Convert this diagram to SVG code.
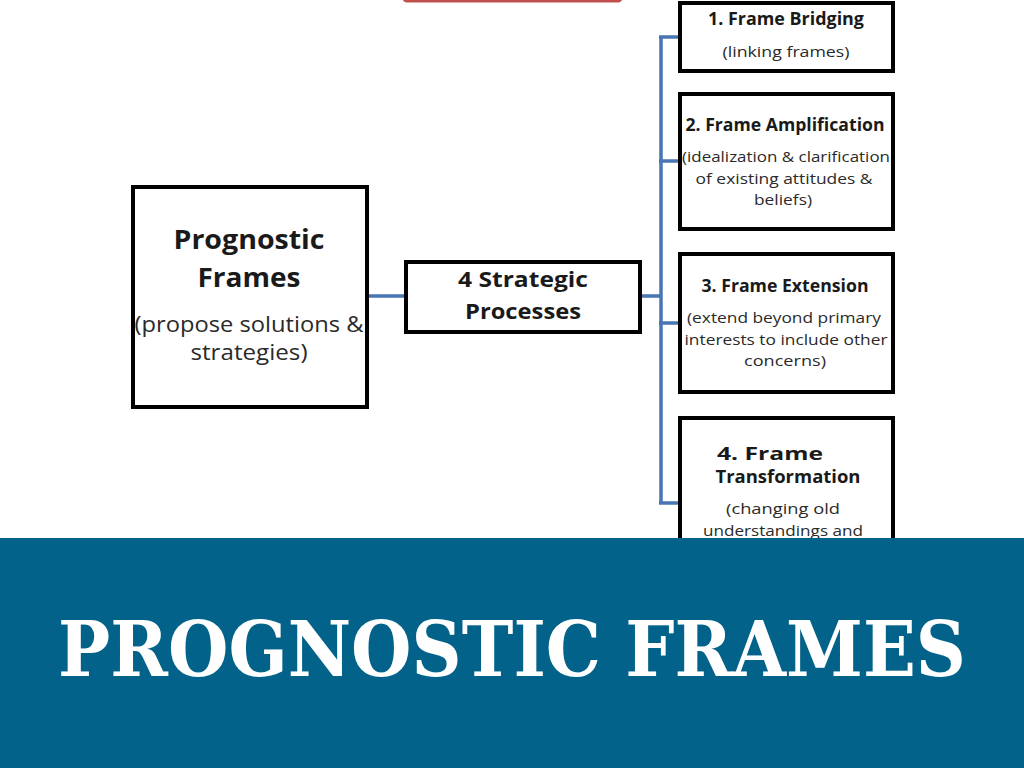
<svg xmlns="http://www.w3.org/2000/svg" width="1024" height="768" viewBox="0 0 1024 768">
<style>
.box{fill:#fff;stroke:#000;stroke-width:4}
.conn{fill:none;stroke:#4a75b5;stroke-width:3.5}
.h{font-family:"Open Sans","Liberation Sans",sans-serif;font-weight:700;fill:#1a1a1a;text-anchor:middle}
.s{font-family:"Open Sans","Liberation Sans",sans-serif;font-weight:400;fill:#2a2a2a;text-anchor:middle}
.title{font-family:"DejaVu Serif","Liberation Serif",serif;font-weight:700;fill:#fff;text-anchor:middle}
</style>
<rect width="1024" height="768" fill="#fff"/>
<rect x="404" y="-20" width="217" height="21" rx="3" fill="#fff" stroke="#c0504d" stroke-width="3"/>
<g id="connectors">
<line class="conn" x1="368" y1="296" x2="405" y2="296"/>
<line class="conn" x1="641" y1="296" x2="661" y2="296"/>
<line class="conn" x1="661" y1="36" x2="661" y2="504"/>
<line class="conn" x1="659" y1="37" x2="679" y2="37"/>
<line class="conn" x1="659" y1="161" x2="679" y2="161"/>
<line class="conn" x1="659" y1="323" x2="679" y2="323"/>
<line class="conn" x1="659" y1="503" x2="679" y2="503"/>
</g>
<g id="prognostic-frames">
<rect class="box" x="133" y="187" width="234" height="220"/>
<text class="h" x="249" y="249" font-size="26" textLength="151" lengthAdjust="spacingAndGlyphs">Prognostic</text>
<text class="h" x="249" y="287" font-size="26" textLength="103" lengthAdjust="spacingAndGlyphs">Frames</text>
<text class="s" x="249" y="332" font-size="22" textLength="229" lengthAdjust="spacingAndGlyphs">(propose solutions &amp;</text>
<text class="s" x="249" y="360" font-size="22" textLength="117" lengthAdjust="spacingAndGlyphs">strategies)</text>
</g>
<g id="strategic-processes">
<rect class="box" x="406" y="262" width="234" height="70"/>
<text class="h" x="523" y="287" font-size="21" textLength="130" lengthAdjust="spacingAndGlyphs">4 Strategic</text>
<text class="h" x="523" y="319" font-size="21" textLength="116" lengthAdjust="spacingAndGlyphs">Processes</text>
</g>
<g id="frame-bridging">
<rect class="box" x="680" y="3" width="213" height="68"/>
<text class="h" x="786" y="25" font-size="17" textLength="156" lengthAdjust="spacingAndGlyphs">1. Frame Bridging</text>
<text class="s" x="786" y="57" font-size="15" textLength="127" lengthAdjust="spacingAndGlyphs">(linking frames)</text>
</g>
<g id="frame-amplification">
<rect class="box" x="680" y="94" width="213" height="135"/>
<text class="h" x="785" y="131" font-size="17" textLength="199" lengthAdjust="spacingAndGlyphs">2. Frame Amplification</text>
<text class="s" x="786" y="162" font-size="15" textLength="208" lengthAdjust="spacingAndGlyphs">(idealization &amp; clarification</text>
<text class="s" x="784" y="184" font-size="15" textLength="177" lengthAdjust="spacingAndGlyphs">of existing attitudes &amp;</text>
<text class="s" x="783" y="205" font-size="15" textLength="58" lengthAdjust="spacingAndGlyphs">beliefs)</text>
</g>
<g id="frame-extension">
<rect class="box" x="680" y="254" width="213" height="138"/>
<text class="h" x="785" y="292" font-size="17" textLength="167" lengthAdjust="spacingAndGlyphs">3. Frame Extension</text>
<text class="s" x="784" y="323" font-size="15" textLength="194" lengthAdjust="spacingAndGlyphs">(extend beyond primary</text>
<text class="s" x="786" y="345" font-size="15" textLength="203" lengthAdjust="spacingAndGlyphs">interests to include other</text>
<text class="s" x="785" y="366" font-size="15" textLength="82" lengthAdjust="spacingAndGlyphs">concerns)</text>
</g>
<g id="frame-transformation">
<rect class="box" x="680" y="418" width="213" height="160"/>
<text class="h" x="770" y="460" font-size="17" textLength="106" lengthAdjust="spacingAndGlyphs">4. Frame</text>
<text class="h" x="788" y="483" font-size="17" textLength="145" lengthAdjust="spacingAndGlyphs">Transformation</text>
<text class="s" x="783" y="514" font-size="15" textLength="114" lengthAdjust="spacingAndGlyphs">(changing old</text>
<text class="s" x="783" y="536" font-size="15" textLength="160" lengthAdjust="spacingAndGlyphs">understandings and</text>
</g>
<g id="banner">
<rect x="0" y="538" width="1024" height="230" fill="#036289"/>
<text class="title" transform="translate(512,676) scale(1,1.18)" x="0" y="0" font-size="65" textLength="908" lengthAdjust="spacingAndGlyphs">PROGNOSTIC FRAMES</text>
</g>
</svg>
